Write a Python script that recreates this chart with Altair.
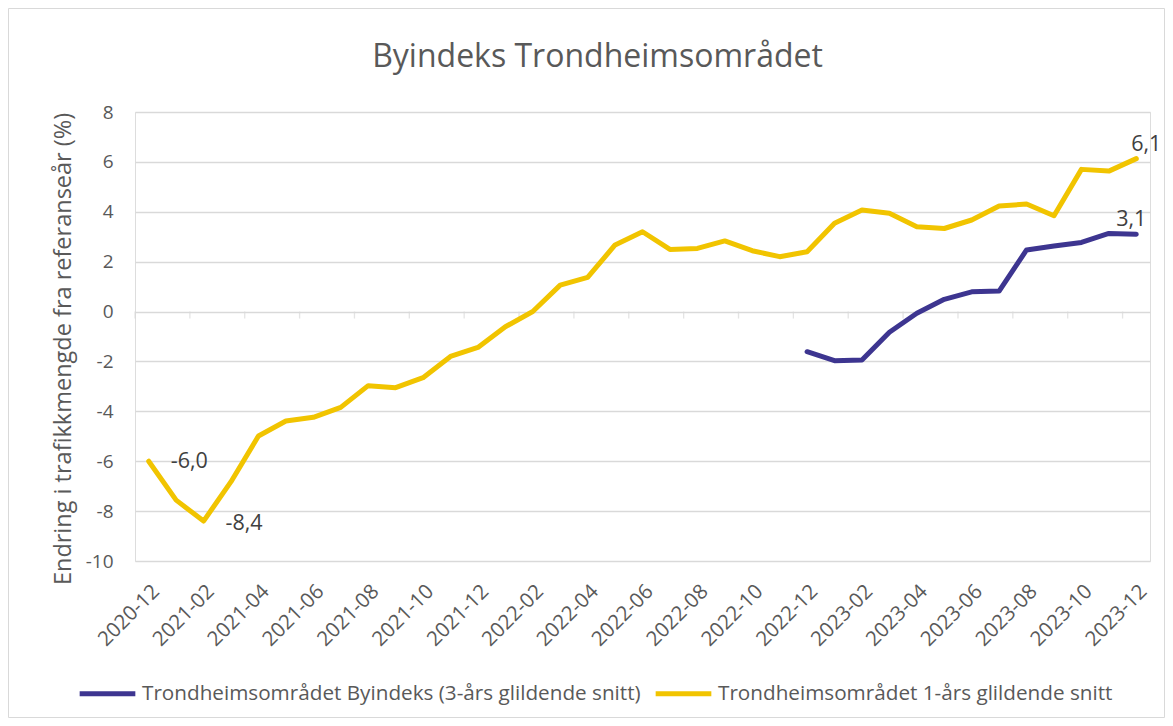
import altair as alt
import pandas as pd

months = ["2020-12",
          "2021-01", "2021-02", "2021-03", "2021-04", "2021-05", "2021-06",
          "2021-07", "2021-08", "2021-09", "2021-10", "2021-11", "2021-12",
          "2022-01", "2022-02", "2022-03", "2022-04", "2022-05", "2022-06",
          "2022-07", "2022-08", "2022-09", "2022-10", "2022-11", "2022-12",
          "2023-01", "2023-02", "2023-03", "2023-04", "2023-05", "2023-06",
          "2023-07", "2023-08", "2023-09", "2023-10", "2023-11", "2023-12"]

one_year = [-6.0, -7.56, -8.4, -6.82, -4.99, -4.39, -4.24, -3.84, -2.97, -3.05,
            -2.65, -1.8, -1.44, -0.61, 0.0, 1.06, 1.37, 2.67, 3.2, 2.49, 2.53,
            2.83, 2.44, 2.2, 2.4, 3.54, 4.07, 3.94, 3.4, 3.33, 3.67, 4.23, 4.31,
            3.84, 5.7, 5.63, 6.13]

three_year_months = months[24:]
three_year = [-1.61, -1.97, -1.94, -0.83, -0.07, 0.49, 0.79, 0.82, 2.47, 2.63,
              2.77, 3.13, 3.1]

name_3 = "Trondheimsområdet Byindeks (3-års glildende snitt)"
name_1 = "Trondheimsområdet 1-års glildende snitt"
series_names = [name_3, name_1]
series_colors = ["#3D3590", "#F1C400"]

y_ticks = [8, 6, 4, 2, 0, -2, -4, -6, -8, -10]

FONT = "Open Sans"
GREY = "#595959"

rows = []
for i, (m, v) in enumerate(zip(months, one_year)):
    rows.append({"idx": i, "month": m, "value": v, "series": name_1})
for m, v in zip(three_year_months, three_year):
    rows.append({"idx": months.index(m), "month": m, "value": v, "series": name_3})
df = pd.DataFrame(rows)

label_expr = "[" + ",".join("'%s'" % m for m in months) + "][datum.value]"

x_scale = alt.Scale(domain=[-0.5, len(months) - 0.5], nice=False, zero=False)
y_scale = alt.Scale(domain=[-10, 8], nice=False)

W, H = 1015, 449

x_enc = alt.X("idx:Q", scale=x_scale,
              axis=alt.Axis(values=list(range(0, len(months), 2)), labelExpr=label_expr,
                            labelAngle=-45, labelFontSize=20.5, labelColor=GREY, labelFont=FONT,
                            labelOverlap=False, labelBound=False,
                            grid=False, ticks=False, domain=False, labelPadding=20,
                            title=None))
y_enc = alt.Y("value:Q", scale=y_scale,
              axis=alt.Axis(values=y_ticks, grid=True, gridColor="#D9D9D9", gridWidth=1.3,
                            labelExpr="datum.value + ''",
                            ticks=False, domain=False, labelFontSize=19, labelColor=GREY,
                            labelFont=FONT, labelPadding=22,
                            title="Endring i trafikkmengde fra referanseår (%)",
                            titleFontSize=23.5, titleColor=GREY, titleFont=FONT,
                            titleFontWeight="normal", titlePadding=10,
                            titleY=H / 2 + 12))

base = alt.Chart(df)

lines = base.mark_line(strokeWidth=5, strokeCap="round", strokeJoin="round").encode(
    x=x_enc,
    y=y_enc,
    color=alt.Color("series:N",
                    scale=alt.Scale(domain=series_names, range=series_colors),
                    legend=alt.Legend(orient="none", legendX=-58, legendY=551,
                                      direction="horizontal", title=None,
                                      symbolType="stroke", symbolStrokeWidth=5,
                                      symbolSize=3100, labelFontSize=20.7,
                                      labelColor=GREY, labelFont=FONT, labelLimit=800,
                                      labelOffset=4, columnPadding=4)),
    detail="series:N",
)

# zero axis line with tick marks between category pairs
tick_pos = [i - 0.5 for i in range(0, len(months), 2)]
ticks_df = pd.DataFrame({"idx": tick_pos, "value": [0] * len(tick_pos)})
zero_ticks = alt.Chart(ticks_df).mark_tick(orient="vertical", size=7, thickness=1.3,
                                           color="#D9D9D9", yOffset=3.5).encode(
    x=alt.X("idx:Q", scale=x_scale), y=alt.Y("value:Q", scale=y_scale))

# data labels
lab_df = pd.DataFrame({
    "idx": [0, 2, 36, 36],
    "value": [one_year[0], one_year[2], one_year[36], three_year[-1]],
    "text": ["-6,0", "-8,4", "6,1", "3,1"],
    "kind": ["a", "b", "c", "d"],
})
def lab(kind, align, dx, dy):
    return alt.Chart(lab_df).transform_filter(alt.datum.kind == kind).mark_text(
        align=align, baseline="middle", dx=dx, dy=dy, fontSize=21.5, font=FONT,
        color="#404040").encode(
        x=alt.X("idx:Q", scale=x_scale), y=alt.Y("value:Q", scale=y_scale), text="text:N")

labels = lab("a", "left", 22, 1) + lab("b", "left", 22, 3) + lab("c", "center", 10, -14) + lab("d", "center", -5, -14)

border = alt.Chart(pd.DataFrame({"a": [0]})).mark_rect(
    fill=None, stroke="#D9D9D9", strokeWidth=1).encode(
    x=alt.value(-126.5), x2=alt.value(W + 14.5), y=alt.value(-103.5), y2=alt.value(H + 156.5))

chart = alt.layer(border, zero_ticks, lines, labels).properties(
    width=W, height=H,
    autosize=alt.AutoSizeParams(type="none"),
    padding={"left": 127, "top": 104, "right": 15, "bottom": 157},
    title=alt.TitleParams("Byindeks Trondheimsområdet", fontSize=32, color=GREY,
                          font=FONT, fontWeight="normal", anchor="middle",
                          dx=-45, offset=-66),
).configure_view(stroke=None).configure(background="white")

chart.save("out.html", embed_options={"renderer": "svg", "actions": False})
